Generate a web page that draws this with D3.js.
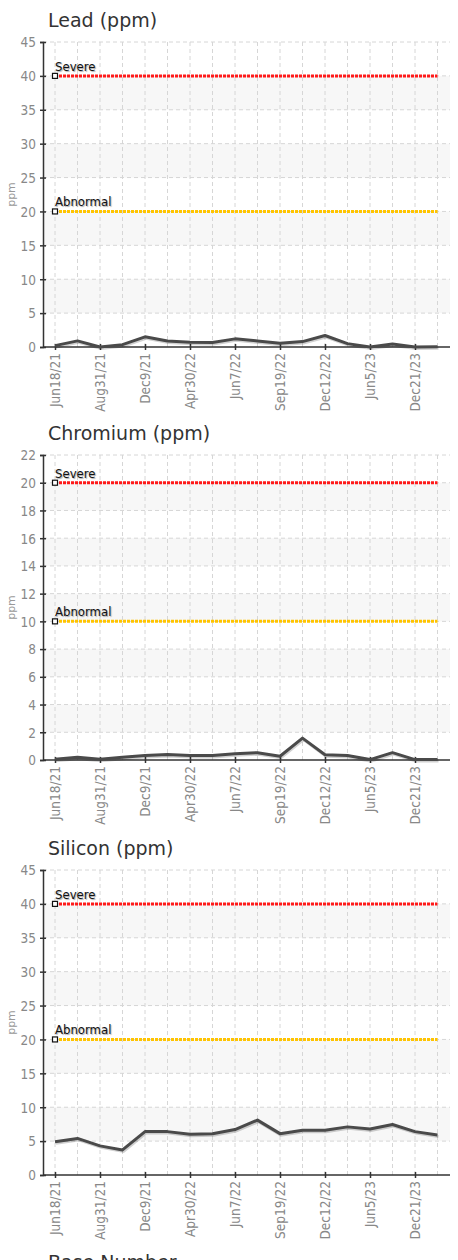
<!DOCTYPE html>
<html>
<head>
<meta charset="utf-8">
<script src="https://cdn.jsdelivr.net/npm/d3@7"></script>
<style>
  body { margin: 0; background: #fff; }
  .title { font-family: "DejaVu Sans", sans-serif; font-size: 19px; fill: #333; }
  .tick-label { font-family: "DejaVu Sans Condensed", "DejaVu Sans", sans-serif; font-size: 13.5px; fill: #888; }
  .unit-label { font-family: "DejaVu Sans", sans-serif; font-size: 11px; fill: #999; }
  .limit-label { font-family: "Liberation Sans Narrow", "DejaVu Sans Condensed", sans-serif; font-size: 13px; fill: #111; }
</style>
</head>
<body>
<div id="charts"></div>
<script>
// sample dates (only every other one is labelled on the axis)
var sampleLabels = ["Jun18/21", "", "Aug31/21", "", "Dec9/21", "", "Apr30/22", "", "Jun7/22", "",
                    "Sep19/22", "", "Dec12/22", "", "Jun5/23", "", "Dec21/23", ""]

var leadValues     = [0.2, 0.9, 0.0, 0.35, 1.5, 0.9, 0.7, 0.65, 1.2, 0.9, 0.55, 0.8, 1.7, 0.5, 0.0, 0.45, 0.0, 0.05]
var chromiumValues = [0.05, 0.2, 0.05, 0.2, 0.33, 0.4, 0.33, 0.33, 0.45, 0.53, 0.27, 1.58, 0.38, 0.33, 0.03, 0.53, 0.03, 0.03]
var siliconValues  = [4.9, 5.4, 4.3, 3.7, 6.4, 6.4, 6.0, 6.1, 6.7, 8.1, 6.1, 6.6, 6.6, 7.1, 6.8, 7.45, 6.4, 5.9]

var leadTicks     = [0, 5, 10, 15, 20, 25, 30, 35, 40, 45]
var chromiumTicks = [0, 2, 4, 6, 8, 10, 12, 14, 16, 18, 20, 22]
var siliconTicks  = [0, 5, 10, 15, 20, 25, 30, 35, 40, 45]

var limitNames     = ["Severe", "Abnormal"]
var limitColors    = ["#ff1a1a", "#ffc400"]
var leadLimits     = [40, 20]
var chromiumLimits = [20, 10]
var siliconLimits  = [40, 20]

var W = 458, H = 1260
var svg = d3.select('#charts').append('svg')
    .attr('width', W)
    .attr('height', H)

function drawChart(top, title, values, ticks, limits) {
    // set the dimensions and margins of the panel
    var margin = {top: 42, right: 8, left: 43},
        plotH = 305
    var g = svg.append('g').attr('transform', 'translate(0,' + top + ')')

    var yScale = d3.scaleLinear()
        .domain([0, d3.max(ticks)])
        .range([margin.top + plotH, margin.top])

    var xScale = d3.scalePoint()
        .domain(d3.range(values.length))
        .range([margin.left + 12, W - margin.right - 12.5])

    var x0 = margin.left, x1 = W - margin.right

    g.append('text')
        .attr('class', 'title')
        .attr('x', 48)
        .attr('y', 27)
        .text(title)

    // alternating background bands
    g.selectAll('.band')
        .data(ticks.slice(0, -1).filter((d, i) => i % 2 == 1))
        .enter().append('rect')
        .attr('x', x0)
        .attr('width', x1 - x0)
        .attr('y', d => yScale(ticks[ticks.indexOf(d) + 1]))
        .attr('height', d => yScale(d) - yScale(ticks[ticks.indexOf(d) + 1]))
        .attr('fill', '#f7f7f7')

    // grid lines
    g.selectAll('.hgrid')
        .data(ticks.slice(1))
        .enter().append('line')
        .attr('x1', x0).attr('x2', x1)
        .attr('y1', d => yScale(d)).attr('y2', d => yScale(d))
        .attr('stroke', '#d6d6d6')
        .attr('stroke-dasharray', '4,3')

    g.selectAll('.vgrid')
        .data(d3.range(values.length))
        .enter().append('line')
        .attr('x1', d => xScale(d)).attr('x2', d => xScale(d))
        .attr('y1', yScale.range()[1]).attr('y2', yScale.range()[0])
        .attr('stroke', '#d6d6d6')
        .attr('stroke-dasharray', '4,3')

    // y axis
    var yAxis = g.append('g')
        .attr('transform', 'translate(' + x0 + ',0)')
        .call(d3.axisLeft(yScale).tickValues(ticks).tickSize(3).tickPadding(4))
    yAxis.select('.domain').attr('stroke', '#333').attr('stroke-width', 1.5)
    yAxis.selectAll('.tick line').attr('stroke', '#333').attr('x2', 3).attr('x1', -3).attr('stroke-width', 1.5)
    yAxis.selectAll('.tick text').attr('class', 'tick-label').attr('fill', null).attr('dy', '0.36em')

    g.append('text')
        .attr('class', 'unit-label')
        .attr('transform', 'translate(15,' + (margin.top + plotH / 2) + ') rotate(-90)')
        .attr('text-anchor', 'middle')
        .text('ppm')

    // x axis
    var xAxis = g.append('g')
        .attr('transform', 'translate(0,' + yScale(0) + ')')
        .call(d3.axisBottom(xScale)
            .tickValues(d3.range(values.length).filter(i => sampleLabels[i] != ''))
            .tickFormat(i => sampleLabels[i])
            .tickSize(3))
    xAxis.select('.domain').attr('d', 'M' + x0 + ',0H' + x1).attr('stroke', '#333').attr('stroke-width', 1.5)
    xAxis.selectAll('.tick line').attr('stroke', '#333').attr('y1', -3).attr('y2', 3).attr('stroke-width', 1.5)
    xAxis.selectAll('.tick text')
        .attr('class', 'tick-label')
        .attr('fill', null)
        .attr('transform', 'rotate(-90)')
        .attr('text-anchor', 'end')
        .attr('x', -6)
        .attr('y', 0)
        .attr('dy', '0.36em')

    // limit lines
    limits.forEach(function(v, i) {
        g.append('line')
            .attr('x1', xScale(0)).attr('x2', xScale(values.length - 1))
            .attr('y1', yScale(v)).attr('y2', yScale(v))
            .attr('stroke', limitColors[i])
            .attr('stroke-width', 3)
            .attr('stroke-dasharray', '3,1')
        g.append('rect')
            .attr('x', xScale(0) - 2.5).attr('y', yScale(v) - 2.5)
            .attr('width', 5).attr('height', 5)
            .attr('fill', '#fff').attr('stroke', '#111').attr('stroke-width', 1.2)
        g.append('text')
            .attr('class', 'limit-label')
            .attr('x', xScale(0))
            .attr('y', yScale(v) - 5)
            .style('text-shadow', '1px 1px 1px #aaa')
            .text(limitNames[i])
    })

    // data line with a soft shadow
    var line = d3.line()
        .x((d, i) => xScale(i))
        .y(d => yScale(d))
    g.append('path')
        .datum(values)
        .attr('d', line)
        .attr('transform', 'translate(1,1.5)')
        .attr('fill', 'none')
        .attr('stroke', 'rgba(0,0,0,0.18)')
        .attr('stroke-width', 3)
    g.append('path')
        .datum(values)
        .attr('d', line)
        .attr('fill', 'none')
        .attr('stroke', '#4a4a4a')
        .attr('stroke-width', 3)
        .attr('stroke-linejoin', 'round')
}

drawChart(0, 'Lead (ppm)', leadValues, leadTicks, leadLimits)
drawChart(413, 'Chromium (ppm)', chromiumValues, chromiumTicks, chromiumLimits)
drawChart(828, 'Silicon (ppm)', siliconValues, siliconTicks, siliconLimits)

// next panel title, cut off by the window as in the original page
svg.append('text')
    .attr('class', 'title')
    .attr('x', 48)
    .attr('y', 1242 + 27)
    .text('Base Number')
</script>
</body>
</html>
